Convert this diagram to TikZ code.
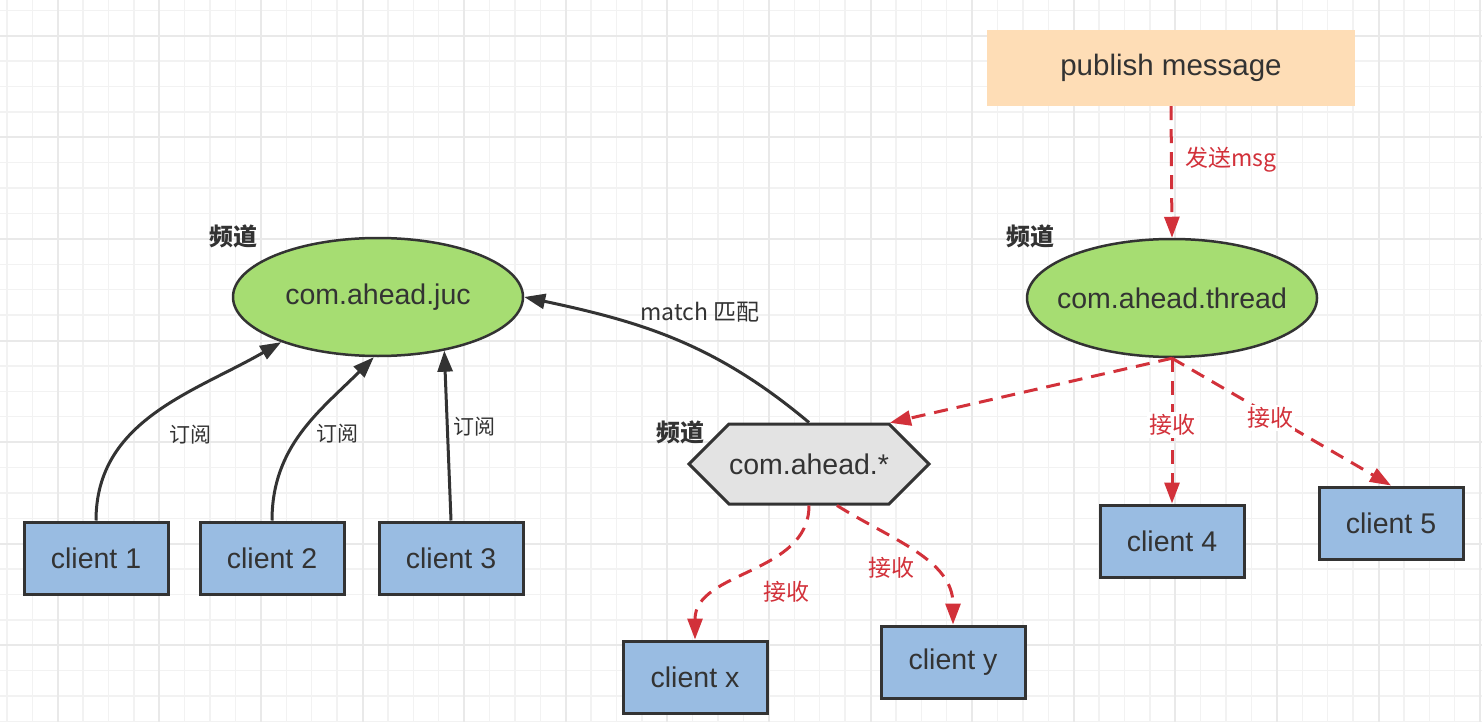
\documentclass[tikz,border=0pt]{standalone}
\usepackage{fontspec}
\setmainfont{Liberation Sans}
\newfontfamily\cjk{Noto Sans CJK SC}
\usetikzlibrary{shapes.geometric,shapes.symbols,arrows.meta}

\definecolor{gridminor}{HTML}{F2F2F2}
\definecolor{gridmajor}{HTML}{E9E9E9}
\definecolor{inkgray}{HTML}{333333}
\definecolor{clientblue}{HTML}{99BCE2}
\definecolor{channelgreen}{HTML}{A6DD72}
\definecolor{matchgray}{HTML}{E3E3E3}
\definecolor{pubpeach}{HTML}{FEDDB6}
\definecolor{msgred}{HTML}{D2313A}

\tikzset{
  client/.style={rectangle,draw=inkgray,fill=clientblue,line width=3pt,
    minimum width=144pt,minimum height=72pt,text=inkgray,
    font=\fontsize{28.5}{32}\selectfont},
  channel/.style={ellipse,draw=inkgray,fill=channelgreen,line width=2.5pt,
    minimum width=290pt,minimum height=118pt,inner sep=0pt,text=inkgray,
    font=\fontsize{28.5}{32}\selectfont},
  chtag/.style={text=inkgray,font=\cjk\bfseries\fontsize{24}{28}\selectfont},
  subtag/.style={text=inkgray,font=\cjk\fontsize{21}{24}\selectfont},
  recvtag/.style={text=msgred,fill=white,inner sep=2pt,font=\cjk\fontsize{23}{26}\selectfont},
  subarrow/.style={draw=inkgray,line width=3pt,-{Triangle[length=21pt,width=15pt]}},
  recvarrow/.style={draw=msgred,line width=3pt,dash pattern=on 14pt off 9pt,
    -{Triangle[length=21pt,width=15pt]}},
}

\begin{document}
\begin{tikzpicture}[x=1pt,y=-1pt]
  \useasboundingbox (0,0) rectangle (1482,722);
  \fill[white] (0,0) rectangle (1482,722);
  % grid paper
  \foreach \i in {0,...,57}
    \draw[gridminor,line width=1.5pt] ({6.9+25.4*\i},0) -- ++(0,722);
  \foreach \j in {0,...,28}
    \draw[gridminor,line width=1.5pt] (0,{10.3+25.4*\j}) -- ++(1482,0);
  \foreach \i in {0,...,14}
    \draw[gridmajor,line width=2pt] ({57.7+101.6*\i},0) -- ++(0,722);
  \foreach \j in {0,...,6}
    \draw[gridmajor,line width=2pt] (0,{35.7+101.6*\j}) -- ++(1482,0);

  % publisher and channels
  \node(pub)[fill=pubpeach,minimum width=368pt,minimum height=76pt,text=inkgray,
    font=\fontsize{29.5}{32}\selectfont] at (1171,68) {publish message};
  \node(thr)[channel] at (1172,298) {\makebox[0pt]{com.ahead.thread}};
  \node(juc)[channel] at (378,297) {com.ahead.juc};
  \node(hex)[signal,signal to=west and east,signal pointer angle=90,draw=inkgray,
    fill=matchgray,line width=3pt,minimum width=240pt,minimum height=80pt,
    inner sep=0pt,text=inkgray,font=\fontsize{28.5}{32}\selectfont] at (809,464) {com.ahead.*};
  \node(tjuc)[chtag] at (233,236) {频道};
  \node(tthr)[chtag] at (1030,236) {频道};
  \node(thex)[chtag] at (680,432) {频道};

  % clients
  \node(c1)[client] at (96,558) {client 1};
  \node(c2)[client] at (272,558) {client 2};
  \node(c3)[client] at (451,558) {client 3};
  \node(cx)[client] at (695,677) {client x};
  \node(cy)[client] at (953,662) {client y};
  \node(c4)[client] at (1172,541) {client 4};
  \node(c5)[client] at (1391,523) {client 5};

  % subscribe
  \draw[subarrow] (c1.north) to[out=90,in=210] (juc.205);
  \draw[subarrow] (c2.north) to[out=90,in=225] (juc.266);
  \draw[subarrow] (c3.north) -- (juc.-39);
  \draw[subarrow] (hex.north) to[out=140,in=-12] (juc.east);
  \node(s1)[subtag] at (190,435) {订阅};
  \node(s2)[subtag] at (337,434) {订阅};
  \node(s3)[subtag] at (474,427) {订阅};
  \node(mt)[subtag,font=\cjk\fontsize{23}{26}\selectfont] at (700,312) {match 匹配};

  % publish and receive
  \draw[recvarrow] (pub.south) -- (thr.north);
  \node(send)[recvtag,fill=none] at (1231,160) {发送msg};
  \draw[recvarrow] (thr.south) -- (hex.27);
  \draw[recvarrow] (thr.south) -- (c4.north);
  \draw[recvarrow] (thr.south) -- (c5.north);
  \node(r4)[recvtag] at (1172,425) {接收};
  \node(r5)[recvtag] at (1270,418) {接收};
  \draw[recvarrow] (hex.south) to[out=-90,in=90] (cx.north);
  \draw[recvarrow] (hex.-56) to[out=-32,in=90] (cy.north);
  \node(rx)[recvtag,fill=none] at (786,592) {接收};
  \node(ry)[recvtag,fill=none] at (891,568) {接收};
\end{tikzpicture}
\end{document}
